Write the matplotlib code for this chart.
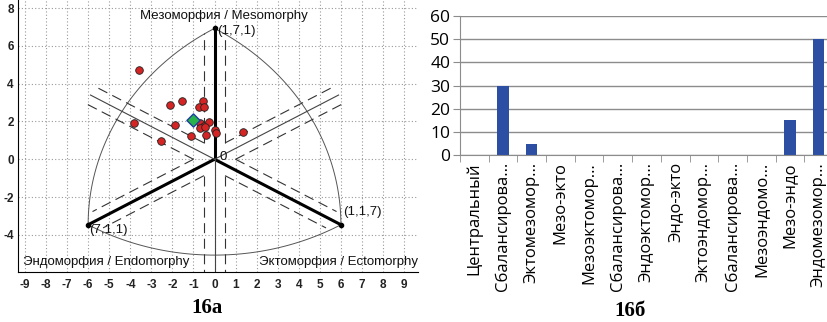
import numpy as np
import matplotlib.pyplot as plt

# somatochart coordinates (X = ecto - endo, Y scaled to an equilateral chart)
x_points = [-3.58, -3.81, -2.53, -2.12, -1.54, -1.88, -1.12, -0.57, -0.74, -0.52,
            -0.68, -0.52, -0.27, -0.71, -0.44, -0.41, 0.03, 0.06, 1.35]
y_points = [4.72, 1.90, 0.95, 2.85, 3.06, 1.81, 1.23, 3.10, 2.75, 2.78,
            1.94, 1.76, 1.95, 1.64, 1.69, 1.30, 1.55, 1.41, 1.44]
mean_x = -1.04
mean_y = 2.10

categories = ["Центральный", "Сбалансирова…", "Эктомезомор…", "Мезо-экто",
              "Мезоэктомор…", "Сбалансирова…", "Эндоэктомор…", "Эндо-экто",
              "Эктоэндомор…", "Сбалансирова…", "Мезоэндомо…", "Мезо-эндо",
              "Эндомезомор…"]
percent = [0, 30, 5, 0, 0, 0, 0, 0, 0, 0, 0, 15, 50]

W, H = 827, 322
R = 12 / np.sqrt(3)

plt.rcParams['axes.unicode_minus'] = False


def draw_somatochart(ax):
    meso = (0, R)
    endo = (-6, -R / 2)
    ecto = (6, -R / 2)

    # Reuleaux boundary, each arc centred on the opposite pole
    for c, a0, a1 in [(endo, 0, 60), (ecto, 120, 180), (meso, 240, 300)]:
        t = np.radians(np.linspace(a0, a1, 100))
        ax.plot(c[0] + 12 * np.cos(t), c[1] + 12 * np.sin(t), color='#555555', lw=0.7)

    # category boundaries: six rays with dashed bands either side
    rays = [(90, 6.67, True), (-30, 6.4, True), (210, 6.4, True),
            (30, 6.8, False), (150, 6.8, False), (270, 7.0, False)]
    for ang, length, thick in rays:
        a = np.radians(ang)
        u = np.array([np.cos(a), np.sin(a)])
        n = np.array([-np.sin(a), np.cos(a)])
        if thick:
            end = R * u
            ax.plot([0, end[0]], [0, end[1]], color='black', lw=2.2, solid_capstyle='butt')
            ax.plot(end[0], end[1], 'o', color='black', ms=3)
        else:
            end = length * u
            ax.plot([0, end[0]], [0, end[1]], color='#444444', lw=0.8)
        for side in (1, -1):
            p0 = 0.866 * u + side * 0.5 * n
            p1 = length * u + side * 0.5 * n
            ax.plot([p0[0], p1[0]], [p0[1], p1[1]], color='#333333', lw=0.8,
                    dashes=(9, 5))

    ax.scatter(x_points, y_points, s=30, color='#d42424', edgecolor='#222222',
               linewidth=0.6, zorder=5)
    ax.scatter([mean_x], [mean_y], s=45, marker='D', color='#27b34a',
               edgecolor='#1d3fa0', linewidth=1.0, zorder=6)

    txt = dict(family='Liberation Sans', fontsize=9.5, color='#111111')
    ax.text(0.43, 7.6, "Мезоморфия / Mesomorphy", ha='center', va='center', **txt)
    ax.text(0.12, 6.8, "(1,7,1)", ha='left', va='center', **txt)
    ax.text(0.22, 0.12, "0", ha='left', va='center', **txt)
    ax.text(-5.95, -3.74, "(7,1,1)", ha='left', va='center', **txt)
    ax.text(6.1, -2.77, "(1,1,7)", ha='left', va='center', **txt)
    ax.text(-9.08, -5.45, "Эндоморфия / Endomorphy", ha='left', va='center', **txt)
    ax.text(9.66, -5.45, "Эктоморфия / Ectomorphy", ha='right', va='center', **txt)

    ax.set_xlim(-9.33, 9.66)
    ax.set_ylim(-5.95, 8.43)
    ax.set_xticks(range(-9, 10))
    ax.set_yticks(range(-4, 9, 2))
    ax.grid(True, color='#999999', lw=0.8, linestyle=(0, (1, 2)))
    ax.set_axisbelow(True)
    for s in ('top', 'right'):
        ax.spines[s].set_visible(False)
    ax.tick_params(axis='x', length=0, pad=5, labelsize=8.5)
    ax.tick_params(axis='y', length=0, pad=3, labelsize=8.5)
    for lab in ax.get_xticklabels() + ax.get_yticklabels():
        lab.set_family('Liberation Sans')
        lab.set_fontweight('bold')
        lab.set_color('#222222')


def draw_bars(ax):
    pos = np.arange(len(categories))
    ax.bar(pos, percent, width=0.4, color='#2c4fa3')
    ax.set_xlim(-0.5, len(categories) - 0.5)
    ax.set_ylim(0, 60)
    ax.set_yticks(range(0, 61, 10))
    ax.yaxis.grid(True, color='#8c8c8c', lw=1)
    ax.set_axisbelow(True)
    for s in ('top', 'right'):
        ax.spines[s].set_visible(False)
    for s in ('left', 'bottom'):
        ax.spines[s].set_color('#8c8c8c')
    ax.set_xticks(pos)
    ax.set_xticklabels(categories, rotation=90, family=['Open Sans', 'DejaVu Sans'],
                       fontsize=12)
    ax.set_xticks(np.arange(-0.5, len(categories)), minor=True)
    ax.tick_params(axis='x', which='major', length=0, pad=5)
    ax.tick_params(axis='x', which='minor', length=5, color='#8c8c8c')
    ax.tick_params(axis='y', length=5, color='#8c8c8c', labelsize=12.5, pad=2)
    for lab in ax.get_yticklabels():
        lab.set_family(['Open Sans', 'DejaVu Sans'])


def main():
    fig = plt.figure(figsize=(W / 100, H / 100), dpi=100)

    ax1 = fig.add_axes([18 / W, (H - 271.7) / H, 400 / W, 271.7 / H])
    draw_somatochart(ax1)

    ax2 = fig.add_axes([460 / W, (H - 155.3) / H, 373 / W, 139.6 / H])
    draw_bars(ax2)

    fig.text(207 / W, 1 - 308 / H, "16а", ha='center', va='center',
             family='Liberation Serif', fontweight='bold', fontsize=15)
    fig.text(630 / W, 1 - 311 / H, "16б", ha='center', va='center',
             family='Liberation Serif', fontweight='bold', fontsize=15)

    fig.savefig("out.png", dpi=100)


if __name__ == "__main__":
    main()
